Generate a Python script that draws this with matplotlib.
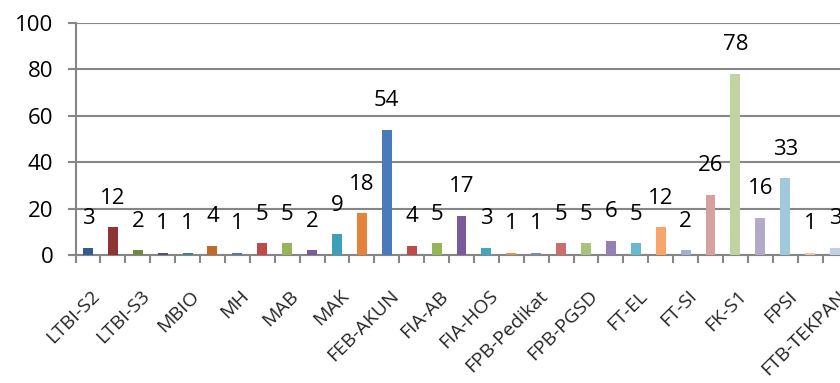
import matplotlib
matplotlib.use('Agg')
import matplotlib.pyplot as plt

plt.rcParams['font.family'] = ['Open Sans', 'DejaVu Sans']

# Data
categories = ['LTBI-S2', '', 'LTBI-S3', '', 'MBIO', '', 'MH', '', 'MAB', '', 'MAK', '',
              'FEB-AKUN', '', 'FIA-AB', '', 'FIA-HOS', '', 'FPB-Pedikat', '', 'FPB-PGSD', '',
              'FT-EL', '', 'FT-SI', '', 'FK-S1', '', 'FPSI', '', 'FTB-TEKPAN']
values = [3, 12, 2, 1, 1, 4, 1, 5, 5, 2, 9, 18, 54, 4, 5, 17, 3, 1, 1, 5, 5, 6, 5, 12,
          2, 26, 78, 16, 33, 1, 3]
colors = ['#335b8e', '#8f3432', '#6f8c3a', '#5e4a7c', '#31869c', '#c0692b',
          '#4a7bbb', '#be4b48', '#94b558', '#7a5c9c', '#3da0b8', '#e5833b',
          '#4a7ab8', '#be4b48', '#94b558', '#7a5a99', '#44a5bf', '#ef8f45',
          '#6d8ec6', '#cb6f6d', '#a9c47a', '#9680b3', '#69b8cd', '#f7a56b',
          '#9bb1d5', '#d7a1a0', '#c2d3a1', '#b3a9c8', '#a0cadb', '#f9c0a2',
          '#c3cfe3']

fig = plt.figure(figsize=(8.4, 3.83), dpi=100)
ax = fig.add_axes([0.0899, 0.334, 0.919, 0.606])

x = list(range(len(values)))
ax.bar(x, values, width=0.4, color=colors, zorder=3)

for xi, v in zip(x, values):
    ax.annotate(str(v), (xi, v), xytext=(0, 21), textcoords='offset points',
                ha='center', va='center', fontsize=16, color='#000000')

ax.set_xlim(-0.5, len(values) - 0.5)
ax.set_ylim(0, 100)
ax.set_yticks([0, 20, 40, 60, 80, 100])
ax.yaxis.grid(True, color='#868686', linewidth=1.5, zorder=0)
ax.tick_params(axis='y', labelsize=16, length=6, width=1.5, color='#868686', pad=10)

# category boundaries carry the tick marks, labels sit under every other bar
ax.set_xticks([i - 0.5 for i in range(len(values))], minor=False)
ax.set_xticklabels([])
ax.tick_params(axis='x', length=6, width=1.5, color='#868686')
ax.set_xticks([xi + 0.1 for xi in x], minor=True)
ax.set_xticklabels(categories, minor=True, rotation=45, ha='right',
                   rotation_mode='anchor', fontsize=14, color='#262626')
ax.tick_params(axis='x', which='minor', length=0, pad=23)

for side in ['top', 'right']:
    ax.spines[side].set_visible(False)
ax.spines['left'].set_color('#868686')
ax.spines['left'].set_linewidth(1.5)
ax.spines['bottom'].set_color('#868686')
ax.spines['bottom'].set_linewidth(1.5)

fig.savefig('out.png', dpi=100)
